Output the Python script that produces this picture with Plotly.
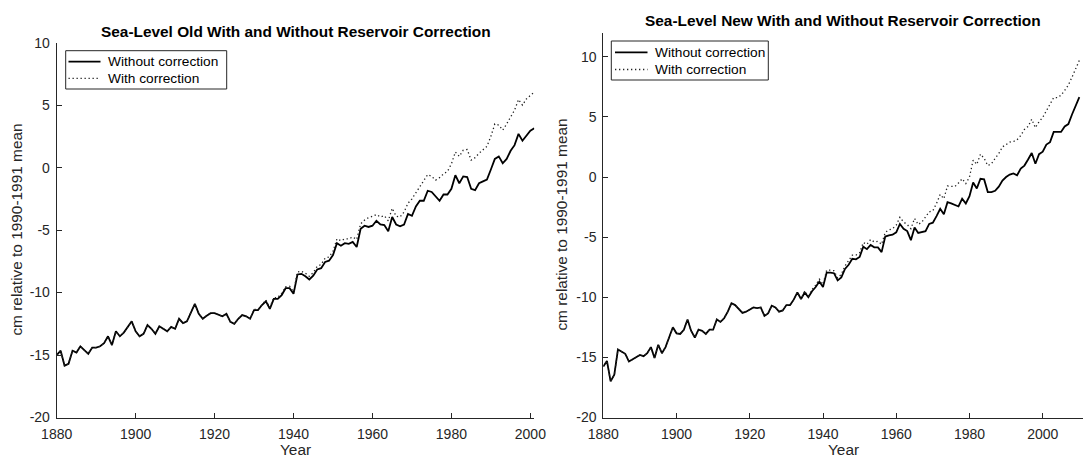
import plotly.graph_objects as go

# ---------------- data ----------------
years_old = list(range(1880, 2002))
old_without = [
    -15.0, -14.65, -15.85, -15.7, -14.65, -14.8, -14.3, -14.6, -14.9, -14.4,
    -14.4, -14.3, -14.05, -13.5, -14.2, -13.1, -13.5, -13.2, -12.75, -12.3,
    -13.1, -13.5, -13.3, -12.6, -12.9, -13.3, -12.7, -12.9, -13.1, -12.75,
    -12.9, -12.1, -12.45, -12.3, -11.6, -10.9, -11.7, -12.1, -11.85, -11.65,
    -11.65, -11.8, -11.9, -11.7, -12.35, -12.5, -12.1, -11.8, -11.9, -12.1,
    -11.4, -11.4, -11.0, -10.7, -11.3, -10.5, -10.5, -10.2, -9.65, -9.65,
    -10.1, -8.55, -8.5, -8.7, -8.95, -8.65, -8.15, -8.05, -7.55, -7.45,
    -7.0, -6.05, -6.25, -6.05, -6.1, -5.95, -6.35, -4.9, -4.65, -4.75,
    -4.65, -4.25, -4.55, -4.6, -5.1, -3.95, -4.55, -4.7, -4.55, -3.7,
    -3.85, -3.1, -2.65, -2.65, -1.85, -1.95, -2.3, -2.65, -2.15, -2.15,
    -1.7, -0.6, -1.25, -0.7, -0.75, -1.7, -1.8, -1.25, -1.1, -0.95,
    -0.15, 0.7, 0.9, 0.35, 0.7, 1.35, 1.8, 2.7, 2.15, 2.6,
    2.95, 3.15,
]
old_with = [
    -15.0, -14.65, -15.85, -15.7, -14.65, -14.8, -14.3, -14.6, -14.9, -14.4,
    -14.4, -14.3, -14.05, -13.5, -14.2, -13.1, -13.5, -13.2, -12.75, -12.3,
    -13.1, -13.5, -13.3, -12.6, -12.9, -13.3, -12.7, -12.9, -13.1, -12.75,
    -12.9, -12.1, -12.45, -12.3, -11.6, -10.9, -11.7, -12.1, -11.85, -11.65,
    -11.65, -11.8, -11.9, -11.7, -12.35, -12.5, -12.1, -11.8, -11.9, -12.1,
    -11.35, -11.35, -10.95, -10.6, -11.2, -10.4, -10.4, -10.05, -9.55, -9.5,
    -9.95, -8.35, -8.3, -8.45, -8.7, -8.4, -7.9, -7.75, -7.25, -7.15,
    -6.7, -5.7, -5.85, -5.7, -5.7, -5.55, -5.75, -4.5, -4.2, -4.0,
    -3.9, -3.75, -3.95, -3.85, -4.25, -3.25, -3.9, -3.95, -3.55, -2.85,
    -2.5, -2.0, -1.5, -1.1, -0.55, -0.7, -1.0, -0.8, -0.5, -0.3,
    0.3, 1.25, 0.9, 1.4, 1.45, 0.6, 0.8, 1.15, 1.4, 1.7,
    2.5, 3.5, 3.4, 3.0, 3.5, 4.05, 4.6, 5.45, 5.0, 5.5,
    5.8, 6.05,
]

years_new = list(range(1880, 2011))
new_without = [
    -15.75, -15.3, -17.0, -16.45, -14.35, -14.55, -14.7, -15.35, -15.15, -15.0,
    -14.8, -14.9, -14.65, -14.15, -15.05, -13.95, -14.65, -14.15, -13.3, -12.5,
    -13.0, -13.05, -12.7, -11.85, -12.8, -13.35, -12.7, -12.8, -13.05, -12.7,
    -12.7, -11.85, -12.05, -11.75, -11.2, -10.5, -10.65, -11.0, -11.3, -11.2,
    -11.05, -10.85, -10.9, -10.85, -11.55, -11.35, -10.7, -10.85, -11.2, -11.1,
    -10.65, -10.65, -10.2, -9.6, -10.15, -9.6, -10.0, -9.5, -9.15, -8.7,
    -9.15, -7.95, -7.95, -8.0, -8.6, -8.35, -7.65, -7.3, -6.8, -6.85,
    -6.65, -5.8, -6.0, -5.65, -5.85, -5.85, -6.25, -4.95, -4.85, -4.8,
    -4.6, -3.9, -4.3, -4.5, -5.25, -4.2, -4.65, -4.55, -4.5, -3.9,
    -3.8, -3.25, -2.65, -3.1, -2.1, -2.2, -2.35, -2.45, -1.8, -2.2,
    -1.6, -0.45, -0.95, -0.15, -0.2, -1.25, -1.25, -1.15, -0.8, -0.3,
    0.0, 0.2, 0.3, 0.15, 0.7, 0.95, 1.45, 2.0, 1.1, 1.9,
    2.1, 2.7, 2.9, 3.75, 3.75, 3.75, 4.2, 4.4, 5.2, 5.95,
    6.65,
]
new_with = [
    -15.75, -15.3, -17.0, -16.45, -14.35, -14.55, -14.7, -15.35, -15.15, -15.0,
    -14.8, -14.9, -14.65, -14.15, -15.05, -13.95, -14.65, -14.15, -13.3, -12.5,
    -13.0, -13.05, -12.7, -11.85, -12.8, -13.35, -12.7, -12.8, -13.05, -12.7,
    -12.7, -11.85, -12.05, -11.75, -11.2, -10.5, -10.65, -11.0, -11.3, -11.2,
    -11.05, -10.85, -10.9, -10.85, -11.55, -11.35, -10.7, -10.85, -11.2, -11.1,
    -10.65, -10.65, -10.2, -9.6, -10.15, -9.5, -9.9, -9.35, -9.0, -8.5,
    -8.95, -7.75, -7.75, -7.8, -8.4, -8.1, -7.4, -7.0, -6.5, -6.5,
    -6.3, -5.45, -5.6, -5.2, -5.4, -5.35, -5.6, -4.6, -4.4, -4.3,
    -4.0, -3.35, -3.75, -3.95, -4.3, -3.45, -3.95, -3.75, -3.35, -2.9,
    -2.8, -2.2, -1.45, -1.8, -0.75, -0.8, -0.8, -0.5, -0.15, -0.55,
    0.0, 1.4, 1.05, 1.9, 1.55, 0.95, 1.1, 1.55, 1.95, 2.5,
    2.7, 2.9, 2.95, 3.1, 3.45, 3.95, 4.2, 4.8, 4.1, 4.6,
    4.95, 5.5, 5.95, 6.6, 6.6, 6.8, 7.2, 7.65, 8.3, 9.0,
    9.7,
]

titles = ["Sea-Level Old With and Without Reservoir Correction",
          "Sea-Level New With and Without Reservoir Correction"]
series_names = ["Without correction", "With correction"]
x_label = "Year"
y_label = "cm relative to 1990-1991 mean"
x_ticks = [1880, 1900, 1920, 1940, 1960, 1980, 2000]
x_tick_labels = ["1880", "1900", "1920", "1940", "1960", "1980", "2000"]
y_ticks = [-20, -15, -10, -5, 0, 5, 10]
y_tick_labels = ["-20", "-15", "-10", "-5", "0", "5", "10"]

# ---------------- styling ----------------
W, H = 1083, 459
FONT = "Liberation Sans, Arial, Helvetica, sans-serif"
AX = "#262626"
TICK_SIZE = 14
LABEL_SIZE = 15.4
LEGEND_SIZE = 13.7


def px_x(p):
    return p / W


def px_y(p):
    return 1 - p / H


bottom = px_y(417.5)
left_dom = [px_x(56.7), px_x(534.3)]
right_dom = [px_x(603.3), 1.0]
left_top = px_y(42.7)
right_top = px_y(32.7)

solid = dict(color="black", width=1.8)
dotted = dict(color="#222222", width=1.3, dash="1.3px,2.7px")

fig = go.Figure()
fig.add_trace(go.Scatter(x=years_old, y=old_without, mode="lines", name=series_names[0],
                         line=solid, xaxis="x", yaxis="y"))
fig.add_trace(go.Scatter(x=years_old, y=old_with, mode="lines", name=series_names[1],
                         line=dotted, xaxis="x", yaxis="y"))
fig.add_trace(go.Scatter(x=years_new, y=new_without, mode="lines", name=series_names[0],
                         line=solid, xaxis="x2", yaxis="y2"))
fig.add_trace(go.Scatter(x=years_new, y=new_with, mode="lines", name=series_names[1],
                         line=dotted, xaxis="x2", yaxis="y2"))

common_axis = dict(
    showgrid=False, zeroline=False, showline=True, linecolor=AX, linewidth=1,
    ticks="inside", ticklen=5, tickwidth=1, tickcolor=AX,
    tickfont=dict(family=FONT, size=TICK_SIZE, color=AX),
    mirror=False, automargin=False, fixedrange=True,
)

fig.update_layout(
    width=W, height=H,
    margin=dict(l=0, r=0, t=0, b=0, pad=0),
    paper_bgcolor="white", plot_bgcolor="white",
    font=dict(family=FONT, color=AX),
    showlegend=False,
    xaxis=dict(domain=left_dom, range=[1880, 2001], tickvals=x_ticks, ticktext=x_tick_labels,
               anchor="y", ticklabelstandoff=4, **common_axis),
    yaxis=dict(domain=[bottom, left_top], range=[-20, 10], tickvals=y_ticks, ticktext=y_tick_labels,
               anchor="x", ticklabelstandoff=3, **common_axis),
    xaxis2=dict(domain=right_dom, range=[1880, 2011], tickvals=x_ticks, ticktext=x_tick_labels,
                anchor="y2", ticklabelstandoff=4, **common_axis),
    yaxis2=dict(domain=[bottom, right_top], range=[-20, 12], tickvals=y_ticks, ticktext=y_tick_labels,
                anchor="x2", ticklabelstandoff=3, **common_axis),
)

annotations = []
shapes = []

# titles
for txt, cx, cy in [(titles[0], (56.7 + 534.3) / 2, 31), (titles[1], (603.3 + 1083) / 2, 21)]:
    annotations.append(dict(text="<b>" + txt + "</b>", x=px_x(cx), y=px_y(cy), xref="paper", yref="paper",
                            xanchor="center", yanchor="middle", showarrow=False,
                            font=dict(family=FONT, size=LABEL_SIZE, color="black")))
# x labels
for cx in [(56.7 + 534.3) / 2, (603.3 + 1083) / 2]:
    annotations.append(dict(text=x_label, x=px_x(cx), y=px_y(459), xref="paper", yref="paper",
                            xanchor="center", yanchor="bottom", showarrow=False,
                            borderpad=0, font=dict(family=FONT, size=LABEL_SIZE, color=AX)))
# y labels
for cx, cy in [(16.5, (42.7 + 417.5) / 2), (561.5, (32.7 + 417.5) / 2)]:
    annotations.append(dict(text=y_label, x=px_x(cx), y=px_y(cy), xref="paper", yref="paper",
                            xanchor="center", yanchor="middle", showarrow=False, textangle=-90,
                            font=dict(family=FONT, size=LABEL_SIZE, color=AX)))

# legends (MATLAB style boxes): (box x0, x1, y0, y1, sample x0, x1, text x, row ys)
legend_specs = [
    (65.7, 226.7, 50.7, 89.0, 68.5, 100.5, 105.5, [61.7, 78.3]),
    (611.3, 768.3, 41.0, 80.0, 615.0, 647.5, 652.5, [52.3, 69.5]),
]
for bx0, bx1, by0, by1, sx0, sx1, tx, rows in legend_specs:
    shapes.append(dict(type="rect", xref="paper", yref="paper",
                       x0=px_x(bx0), x1=px_x(bx1), y0=px_y(by1), y1=px_y(by0),
                       line=dict(color=AX, width=1), fillcolor="white", layer="above"))
    for name, style, ry in zip(series_names, [solid, dotted], rows):
        shapes.append(dict(type="line", xref="paper", yref="paper",
                           x0=px_x(sx0), x1=px_x(sx1), y0=px_y(ry), y1=px_y(ry),
                           line=dict(color=style["color"], width=style["width"],
                                     dash=style.get("dash", "solid")), layer="above"))
        annotations.append(dict(text=name, x=px_x(tx), y=px_y(ry), xref="paper", yref="paper",
                                xanchor="left", yanchor="middle", showarrow=False,
                                font=dict(family=FONT, size=LEGEND_SIZE, color="black")))

fig.update_layout(annotations=annotations, shapes=shapes)

fig.write_html("out.html", config={"displayModeBar": False},
               post_script="document.body.style.margin='0';document.body.style.padding='0';")
